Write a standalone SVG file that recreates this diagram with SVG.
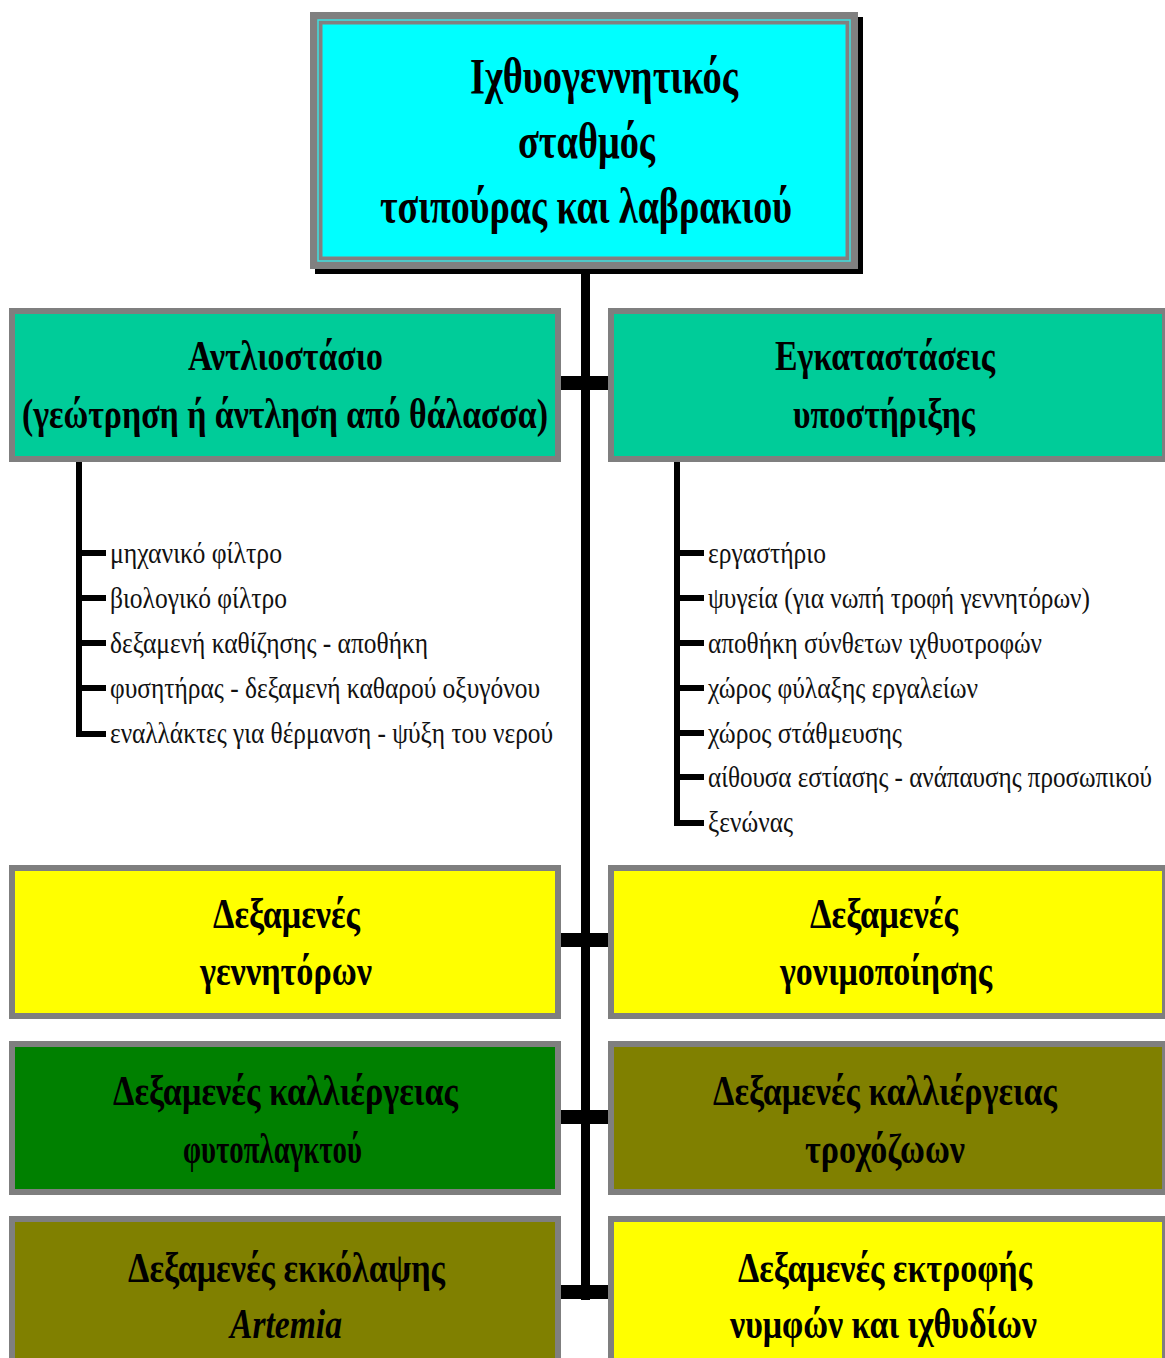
<svg xmlns="http://www.w3.org/2000/svg" width="1165" height="1358" viewBox="0 0 1165 1358">
<style>
.box{stroke:#7f7f7f;stroke-width:6}
.t{font-family:"Liberation Serif","DejaVu Serif",serif;font-weight:bold;fill:#000;text-anchor:start}
.l{font-family:"Liberation Serif","DejaVu Serif",serif;font-size:30px;fill:#111}
.bar{fill:#000}
</style>
<rect width="1165" height="1358" fill="#fff"/>
<g id="connectors">
<rect class="bar" x="581" y="270" width="9" height="1030"/>
<rect class="bar" x="560" y="376" width="50" height="14"/>
<rect class="bar" x="560" y="933" width="50" height="14"/>
<rect class="bar" x="560" y="1110" width="50" height="14"/>
<rect class="bar" x="560" y="1285" width="50" height="14"/>
<rect class="bar" x="76" y="462" width="6" height="275"/>
<rect class="bar" x="76" y="550" width="30" height="6"/>
<rect class="bar" x="76" y="595" width="30" height="6"/>
<rect class="bar" x="76" y="640" width="30" height="6"/>
<rect class="bar" x="76" y="685" width="30" height="6"/>
<rect class="bar" x="76" y="731" width="30" height="6"/>
<rect class="bar" x="674" y="462" width="6" height="364"/>
<rect class="bar" x="674" y="550" width="30" height="6"/>
<rect class="bar" x="674" y="595" width="30" height="6"/>
<rect class="bar" x="674" y="640" width="30" height="6"/>
<rect class="bar" x="674" y="685" width="30" height="6"/>
<rect class="bar" x="674" y="730" width="30" height="6"/>
<rect class="bar" x="674" y="774" width="30" height="6"/>
<rect class="bar" x="674" y="820" width="30" height="6"/>
</g>
<g id="top">
<rect x="315" y="17" width="548" height="257" fill="#000"/>
<rect x="310" y="12" width="548" height="257" fill="#808080"/>
<rect x="318" y="20" width="532" height="241" fill="none" stroke="#3fe0e0" stroke-width="1.5"/>
<rect x="322" y="24" width="524" height="233" fill="#00ffff" stroke="#8a7f7f" stroke-width="1"/>
<text class="t" x="470" y="93" font-size="50" textLength="268" lengthAdjust="spacingAndGlyphs">Ιχθυογεννητικός</text>
<text class="t" x="518" y="158" font-size="50" textLength="137" lengthAdjust="spacingAndGlyphs">σταθμός</text>
<text class="t" x="380" y="223" font-size="50" textLength="412" lengthAdjust="spacingAndGlyphs">τσιπούρας και λαβρακιού</text>
</g>
<g id="antlio">
<rect class="box" x="12" y="311" width="546" height="148" fill="#00cc99"/>
<text class="t" x="188" y="370" font-size="42" textLength="195" lengthAdjust="spacingAndGlyphs">Αντλιοστάσιο</text>
<text class="t" x="22" y="428" font-size="42" textLength="526" lengthAdjust="spacingAndGlyphs">(γεώτρηση ή άντληση από θάλασσα)</text>
</g>
<g id="antlio-list">
<text class="l" x="110" y="563" textLength="172" lengthAdjust="spacingAndGlyphs">μηχανικό φίλτρο</text>
<text class="l" x="110" y="608" textLength="177" lengthAdjust="spacingAndGlyphs">βιολογικό φίλτρο</text>
<text class="l" x="110" y="653" textLength="318" lengthAdjust="spacingAndGlyphs">δεξαμενή καθίζησης - αποθήκη</text>
<text class="l" x="110" y="698" textLength="430" lengthAdjust="spacingAndGlyphs">φυσητήρας - δεξαμενή καθαρού οξυγόνου</text>
<text class="l" x="110" y="743" textLength="443" lengthAdjust="spacingAndGlyphs">εναλλάκτες για θέρμανση - ψύξη του νερού</text>
</g>
<g id="support">
<rect class="box" x="611" y="311" width="554" height="148" fill="#00cc99"/>
<text class="t" x="775" y="370" font-size="42" textLength="220" lengthAdjust="spacingAndGlyphs">Εγκαταστάσεις</text>
<text class="t" x="793" y="428" font-size="42" textLength="182" lengthAdjust="spacingAndGlyphs">υποστήριξης</text>
</g>
<g id="support-list">
<text class="l" x="708" y="563" textLength="118" lengthAdjust="spacingAndGlyphs">εργαστήριο</text>
<text class="l" x="708" y="608" textLength="382" lengthAdjust="spacingAndGlyphs">ψυγεία (για νωπή τροφή γεννητόρων)</text>
<text class="l" x="708" y="653" textLength="334" lengthAdjust="spacingAndGlyphs">αποθήκη σύνθετων ιχθυοτροφών</text>
<text class="l" x="708" y="698" textLength="270" lengthAdjust="spacingAndGlyphs">χώρος φύλαξης εργαλείων</text>
<text class="l" x="708" y="743" textLength="194" lengthAdjust="spacingAndGlyphs">χώρος στάθμευσης</text>
<text class="l" x="708" y="787" textLength="444" lengthAdjust="spacingAndGlyphs">αίθουσα εστίασης - ανάπαυσης προσωπικού</text>
<text class="l" x="708" y="832" textLength="85" lengthAdjust="spacingAndGlyphs">ξενώνας</text>
</g>
<g id="genitores">
<rect class="box" x="12" y="868" width="546" height="148" fill="#ffff00"/>
<text class="t" x="213" y="928" font-size="42" textLength="147" lengthAdjust="spacingAndGlyphs">Δεξαμενές</text>
<text class="t" x="200" y="985" font-size="42" textLength="172" lengthAdjust="spacingAndGlyphs">γεννητόρων</text>
</g>
<g id="gonimopoiisi">
<rect class="box" x="611" y="868" width="554" height="148" fill="#ffff00"/>
<text class="t" x="810" y="928" font-size="42" textLength="148" lengthAdjust="spacingAndGlyphs">Δεξαμενές</text>
<text class="t" x="780" y="985" font-size="42" textLength="212" lengthAdjust="spacingAndGlyphs">γονιμοποίησης</text>
</g>
<g id="fytoplagkto">
<rect class="box" x="12" y="1044" width="546" height="148" fill="#008000"/>
<text class="t" x="113" y="1105" font-size="42" textLength="345" lengthAdjust="spacingAndGlyphs">Δεξαμενές καλλιέργειας</text>
<text class="t" x="183" y="1163" font-size="42" textLength="179" lengthAdjust="spacingAndGlyphs">φυτοπλαγκτού</text>
</g>
<g id="troxozoa">
<rect class="box" x="611" y="1044" width="554" height="148" fill="#808000"/>
<text class="t" x="713" y="1105" font-size="42" textLength="344" lengthAdjust="spacingAndGlyphs">Δεξαμενές καλλιέργειας</text>
<text class="t" x="805" y="1163" font-size="42" textLength="160" lengthAdjust="spacingAndGlyphs">τροχόζωων</text>
</g>
<g id="artemia">
<rect class="box" x="12" y="1219" width="546" height="150" fill="#808000"/>
<text class="t" x="128" y="1282" font-size="42" textLength="317" lengthAdjust="spacingAndGlyphs">Δεξαμενές εκκόλαψης</text>
<text class="t" x="230" y="1338" font-size="42" font-style="italic" textLength="112" lengthAdjust="spacingAndGlyphs">Artemia</text>
</g>
<g id="ektrofi">
<rect class="box" x="611" y="1219" width="554" height="150" fill="#ffff00"/>
<text class="t" x="738" y="1282" font-size="42" textLength="294" lengthAdjust="spacingAndGlyphs">Δεξαμενές εκτροφής</text>
<text class="t" x="730" y="1338" font-size="42" textLength="307" lengthAdjust="spacingAndGlyphs">νυμφών και ιχθυδίων</text>
</g>
</svg>
